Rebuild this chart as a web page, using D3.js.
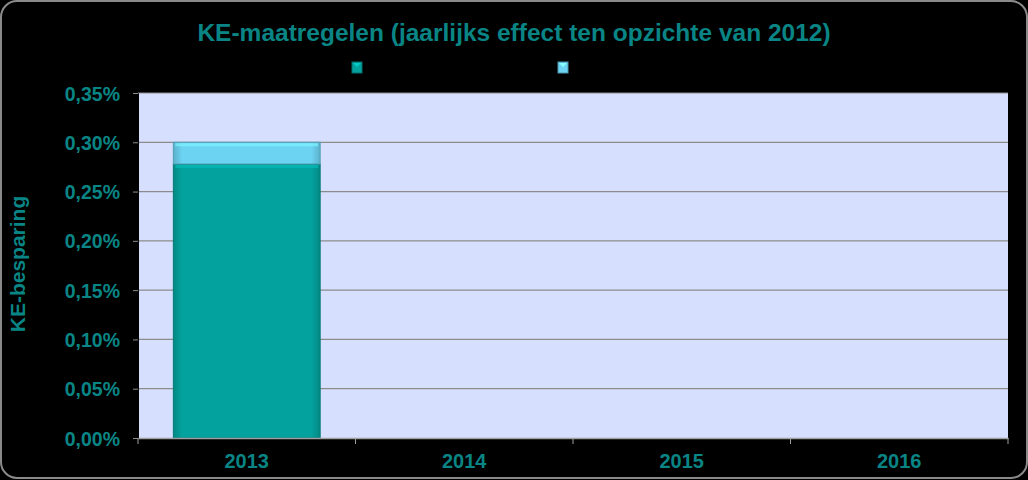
<!DOCTYPE html>
<html>
<head>
<meta charset="utf-8">
<script src="https://cdn.jsdelivr.net/npm/d3@7"></script>
<style>
  html, body { margin: 0; padding: 0; background: #000; }
  #chart { width: 1028px; height: 480px; }
  text { font-family: "Liberation Sans", Arial, sans-serif; font-weight: bold; fill: #0a8585; }
</style>
</head>
<body>
<div id="chart"></div>
<script>
// data
const years = ["2013", "2014", "2015", "2016"];
const seriesNames = ["", ""];
const bottomValues = [0.278, 0, 0, 0];   // %
const topValues = [0.022, 0, 0, 0];      // %
const yTicks = [0, 0.05, 0.10, 0.15, 0.20, 0.25, 0.30, 0.35];
const colors = ["#04a29e", "#6dd3f2"];

document.addEventListener('DOMContentLoaded', function() {
    const W = 1028, H = 480;
    const margin = {top: 93, right: 20, bottom: 42, left: 138};

    const svg = d3.select("#chart").append("svg")
        .attr("width", W)
        .attr("height", H);

    const defs = svg.append("defs");
    colors.forEach((c, i) => {
        const g = defs.append("linearGradient").attr("id", "grad" + i)
            .attr("x1", "0").attr("x2", "1").attr("y1", "0").attr("y2", "0");
        g.append("stop").attr("offset", "0").attr("stop-color", d3.color(c).darker(0.5));
        g.append("stop").attr("offset", "0.06").attr("stop-color", c);
        g.append("stop").attr("offset", "0.94").attr("stop-color", c);
        g.append("stop").attr("offset", "1").attr("stop-color", d3.color(c).darker(0.5));
    });

    // outer frame
    svg.append("rect")
        .attr("x", 1).attr("y", 1)
        .attr("width", W - 2).attr("height", H - 3)
        .attr("rx", 16).attr("ry", 16)
        .attr("fill", "#000")
        .attr("stroke", "#8a8a8a")
        .attr("stroke-width", 2);

    const x = d3.scaleBand()
        .domain(years)
        .range([margin.left, W - margin.right])
        .paddingInner(0)
        .paddingOuter(0);

    const y = d3.scaleLinear()
        .domain([0, 0.35])
        .range([H - margin.bottom, margin.top]);

    // plot area
    svg.append("rect")
        .attr("x", margin.left).attr("y", margin.top)
        .attr("width", W - margin.right - margin.left)
        .attr("height", H - margin.bottom - margin.top)
        .attr("fill", "#d6dffe");

    // gridlines
    svg.append("g")
        .selectAll("line")
        .data(yTicks.slice(1))
        .join("line")
        .attr("x1", margin.left)
        .attr("x2", W - margin.right)
        .attr("y1", d => y(d))
        .attr("y2", d => y(d))
        .attr("stroke", "#8c8c8c")
        .attr("stroke-width", 1.2);

    // bars
    const barW = x.bandwidth() * 0.675;
    const off = (x.bandwidth() - barW) / 2;
    const stacked = years.map((yr, i) => ({
        year: yr,
        parts: [
            {y0: 0, y1: bottomValues[i], s: 0},
            {y0: bottomValues[i], y1: bottomValues[i] + topValues[i], s: 1}
        ]
    }));

    const bars = svg.append("g");
    stacked.forEach(d => {
        d.parts.forEach(p => {
            if (p.y1 - p.y0 <= 0) return;
            const bx = x(d.year) + off;
            const by = y(p.y1);
            const bh = y(p.y0) - y(p.y1);
            bars.append("rect")
                .attr("x", bx).attr("y", by)
                .attr("width", barW).attr("height", bh)
                .attr("fill", "url(#grad" + p.s + ")")
                .attr("stroke", d3.color(colors[p.s]).darker(0.8))
                .attr("stroke-width", 1);
            // bevel highlight at top
            bars.append("rect")
                .attr("x", bx + 2).attr("y", by + 1)
                .attr("width", barW - 4).attr("height", 3)
                .attr("fill", d3.color(colors[p.s]).brighter(0.4))
                .attr("opacity", 0.7);
        });
    });

    // y axis
    const yAxis = svg.append("g")
        .attr("transform", `translate(${margin.left},0)`)
        .call(d3.axisLeft(y).tickValues(yTicks).tickSize(5)
            .tickFormat(d => d3.format(".2f")(d).replace(".", ",") + "%"));
    yAxis.select(".domain").attr("stroke", "#000");
    yAxis.selectAll(".tick line").attr("stroke", "#8c8c8c");
    yAxis.selectAll("text").attr("font-size", 19.5).attr("dx", -10)
        .attr("dy", "0.36em")
        .style("fill", "#0a8585");

    // x axis
    const xAxis = svg.append("g")
        .attr("transform", `translate(0,${H - margin.bottom})`)
        .call(d3.axisBottom(x).tickSize(0));
    xAxis.select(".domain").attr("stroke", "#a0a0a0").attr("stroke-width", 1.5);
    xAxis.selectAll("text").attr("font-size", 20).attr("dy", "1.35em")
        .style("fill", "#0a8585");
    xAxis.append("g").selectAll("line")
        .data(years.concat(["end"]))
        .join("line")
        .attr("x1", (d, i) => margin.left + i * x.bandwidth())
        .attr("x2", (d, i) => margin.left + i * x.bandwidth())
        .attr("y1", 0).attr("y2", 6)
        .attr("stroke", "#a0a0a0");

    // title
    svg.append("text")
        .attr("x", 514).attr("y", 41)
        .attr("text-anchor", "middle")
        .attr("font-size", 24.5)
        .text("KE-maatregelen (jaarlijks effect ten opzichte van 2012)");

    // y label
    svg.append("text")
        .attr("transform", "translate(25,264) rotate(-90)")
        .attr("text-anchor", "middle")
        .attr("font-size", 21)
        .text("KE-besparing");

    // legend (markers only)
    const legendX = [356, 562];
    seriesNames.forEach((n, i) => {
        svg.append("rect")
            .attr("x", legendX[i] - 4).attr("y", 62)
            .attr("width", 10).attr("height", 11)
            .attr("fill", colors[i])
            .attr("stroke", d3.color(colors[i]).darker(1))
            .attr("stroke-width", 1);
        svg.append("path")
            .attr("d", `M${legendX[i] - 3},63 L${legendX[i] + 5},63 L${legendX[i] + 1},67 Z`)
            .attr("fill", d3.color(colors[i]).brighter(0.6));
        svg.append("text")
            .attr("x", legendX[i] + 12).attr("y", 72)
            .attr("font-size", 14)
            .text(n);
    });
});
</script>
</body>
</html>
